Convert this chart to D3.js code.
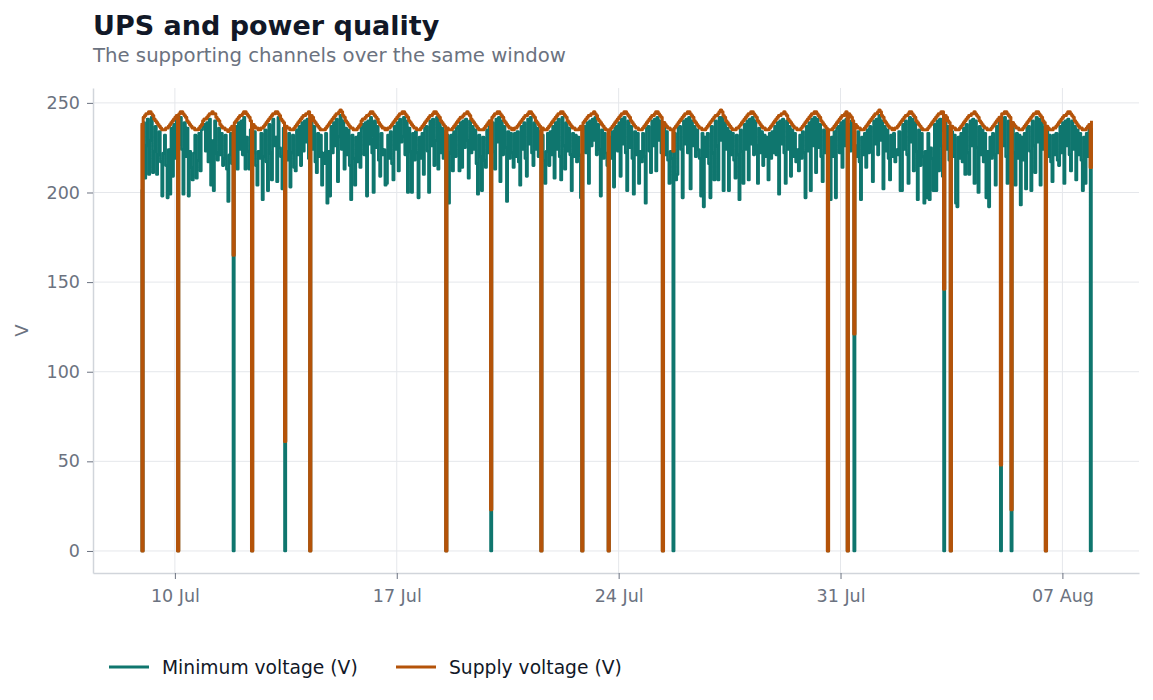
<!DOCTYPE html>
<html>
<head>
<meta charset="utf-8">
<script src="https://cdn.jsdelivr.net/npm/d3@7"></script>
<style>
  body { margin: 0; background: #fff; }
  text { font-family: "DejaVu Sans", sans-serif; }
</style>
</head>
<body>
<svg width="1153" height="700"></svg>
<script>
// hourly readings, first one at 8 Jul 22:00, one row per day
const startTime = "2024-07-08T22:00:00Z";

const supplyV = [
  238,0,242,243,244,244,245,245,244,243,241,240,239,238,237,236,235,235,235,236,236,237,238,239,
  240,241,242,243,0,244,245,245,244,243,242,240,239,238,237,236,236,235,235,235,236,237,238,240,
  241,241,242,243,244,244,245,244,244,242,241,240,238,237,236,236,235,235,234,235,236,237,165,239,
  240,241,242,243,243,244,245,245,244,243,242,240,0,238,237,236,236,235,235,236,236,237,238,239,
  240,241,242,243,244,244,245,245,244,243,241,240,239,61,237,236,236,235,235,235,236,237,238,239,
  240,241,242,243,243,244,244,245,0,243,242,240,239,238,237,236,235,235,235,235,236,237,238,239,
  240,241,242,243,244,244,245,246,245,243,242,240,239,238,237,236,236,235,235,235,236,237,238,240,
  241,241,242,243,243,244,245,245,244,243,242,241,239,238,237,236,236,235,235,236,236,237,238,239,
  240,241,242,243,244,244,245,245,244,243,242,240,239,238,237,236,236,235,235,235,236,237,238,239,
  240,241,242,243,243,244,245,245,244,243,242,240,239,238,237,0,236,235,235,235,236,237,238,239,
  240,241,242,242,243,244,244,245,244,243,241,240,239,238,237,236,235,235,235,235,236,237,238,239,
  240,23,242,243,244,244,245,245,244,243,242,240,239,238,237,236,236,235,235,236,236,237,238,239,
  240,241,242,243,243,244,245,245,244,243,242,240,239,238,237,0,236,235,235,235,236,237,238,239,
  240,241,242,243,244,244,245,245,244,243,242,240,239,238,237,236,236,235,235,235,236,237,0,239,
  240,241,242,243,243,244,244,245,244,243,241,240,239,238,237,236,235,235,0,235,236,237,238,239,
  240,241,242,243,244,244,245,245,244,243,242,240,239,238,237,236,236,235,235,235,236,237,238,239,
  240,241,242,243,243,244,245,245,244,243,242,0,239,238,237,236,236,235,235,223,236,237,238,239,
  240,241,242,243,244,244,245,245,244,243,242,240,239,238,237,236,236,235,235,235,236,237,238,239,
  240,241,242,243,243,244,245,246,245,243,242,240,239,238,237,236,235,235,235,236,236,237,238,239,
  240,241,242,243,244,244,245,245,244,243,242,240,239,238,237,236,236,235,235,235,236,237,238,239,
  240,241,242,243,243,244,244,245,244,243,241,240,239,238,237,236,236,235,235,235,236,237,238,239,
  240,241,242,243,244,244,245,245,244,243,242,240,239,238,237,236,0,235,235,235,236,237,238,239,
  240,241,242,243,243,244,245,0,244,243,242,240,121,238,237,236,236,235,235,235,236,237,238,239,
  240,241,242,243,244,244,245,246,245,243,242,240,239,238,237,236,236,235,235,236,236,237,238,239,
  240,241,242,243,243,244,245,245,244,243,242,240,239,238,237,236,235,235,235,235,236,237,238,239,
  240,241,242,243,244,244,245,245,146,243,242,240,239,0,237,236,236,235,235,235,236,237,238,239,
  240,241,242,243,243,244,244,245,244,243,242,240,239,238,237,236,236,235,235,235,236,237,238,239,
  240,241,242,48,244,244,245,245,244,243,242,23,239,238,237,236,236,235,235,235,236,237,238,239,
  240,241,242,243,244,244,245,245,244,243,242,240,239,0,237,236,235,235,235,236,236,237,238,239,
  240,241,242,243,243,244,245,245,244,243,242,240,239,238,237,236,236,235,235,235,236,237,238,214,
  240
];

const minV = [
  201,0,239,208,226,241,210,229,242,211,223,237,210,221,234,217,198,222,232,215,197,224,199,236,
  209,238,219,240,0,227,242,224,199,239,220,236,198,223,214,207,222,232,208,218,233,212,235,237,
  238,223,239,217,241,204,229,201,240,222,218,236,221,233,215,219,232,213,195,221,233,216,0,224,
  237,213,239,224,240,221,242,213,231,223,213,235,0,222,234,215,204,223,219,233,196,220,235,217,
  201,238,222,207,241,226,231,206,242,225,220,202,236,0,223,218,233,203,222,232,214,212,235,221,
  237,215,239,223,240,228,241,219,0,239,224,237,217,211,233,220,232,204,222,216,233,194,223,198,
  237,222,239,226,241,206,231,243,224,240,213,236,221,235,215,196,232,219,204,231,217,233,214,236,
  238,221,239,198,240,227,242,222,200,240,225,237,218,209,233,221,224,204,205,232,219,234,216,207,
  237,224,239,212,241,228,231,242,221,240,200,236,223,200,233,218,234,222,197,231,219,233,210,236,
  237,223,200,240,226,241,215,229,242,213,239,222,236,219,234,0,232,194,222,232,212,234,220,236,
  237,212,239,214,240,225,241,229,208,240,222,237,224,235,216,199,232,220,201,231,218,214,235,222,
  237,0,239,223,213,241,228,242,206,240,221,237,225,195,234,219,233,222,214,233,220,234,217,204,
  237,224,239,219,209,241,227,242,222,215,239,224,236,220,234,0,232,218,205,223,233,215,234,221,
  237,208,239,224,241,220,207,242,226,213,239,223,236,221,201,233,220,232,217,231,221,197,0,236,
  237,222,239,205,240,226,241,229,242,221,238,224,198,235,219,233,222,215,0,231,219,234,203,236,
  237,223,239,209,241,227,242,222,201,240,225,237,219,199,234,221,233,205,223,217,233,220,194,236,
  237,223,211,240,226,241,212,242,229,240,222,0,236,221,234,218,205,223,219,0,233,207,210,236,
  237,224,197,240,227,241,222,242,202,240,226,237,220,235,224,219,198,233,192,231,220,233,216,197,
  237,222,207,240,226,207,242,229,242,201,239,224,236,201,234,221,233,218,208,232,221,196,235,223,
  205,238,224,240,207,241,227,242,221,240,226,205,236,222,234,215,232,220,231,207,233,219,234,222,
  237,221,239,199,240,227,241,222,205,240,224,237,209,235,220,233,217,224,212,232,219,234,222,197,
  237,223,239,201,241,226,242,211,241,225,238,220,206,235,222,233,0,223,196,231,220,234,197,236,
  237,222,239,214,240,226,241,0,238,223,240,227,0,226,220,234,217,196,231,221,233,214,235,222,
  237,223,206,240,227,241,221,243,229,240,202,237,223,235,219,207,232,220,233,217,224,221,234,201,
  201,238,224,240,221,205,242,228,241,212,239,223,196,235,215,233,220,194,223,197,233,196,225,219,
  201,238,201,240,212,241,226,209,0,240,224,237,218,0,234,220,232,194,192,231,219,233,217,236,
  210,238,222,210,240,226,241,205,240,225,200,237,221,235,217,233,197,223,192,231,219,233,221,204,
  237,222,239,0,240,226,242,220,205,240,225,0,236,222,204,233,219,232,193,231,218,233,202,236,
  237,223,201,240,226,211,242,228,241,204,239,224,236,0,234,220,232,217,206,232,221,233,218,215,
  237,222,239,205,240,226,241,221,212,240,224,237,207,235,221,233,218,201,231,205,233,220,235,0,
  236
];

const tickDates = ["2024-07-10", "2024-07-17", "2024-07-24", "2024-07-31", "2024-08-07"];
const yTicks = [0, 50, 100, 150, 200, 250];
const seriesNames = ["Minimum voltage (V)", "Supply voltage (V)"];
const seriesColors = ["#0f766e", "#b45309"];

const svg = d3.select("svg");
const plotL = 93, plotR = 1139, plotT = 88, plotB = 573;

const t0 = new Date(startTime);
const timeOf = i => d3.utcHour.offset(t0, i);
const tEnd = timeOf(supplyV.length - 1);

// 5% padding on both axes
const x = d3.scaleUtc()
    .domain([d3.utcHour.offset(t0, -36), d3.utcHour.offset(tEnd, 36)])
    .range([plotL, plotR]);
const y = d3.scaleLinear()
    .domain([-12.3, 258.3])
    .range([plotB, plotT]);

// grid
const ticksX = tickDates.map(d => new Date(d + "T00:00:00Z"));
svg.append("g").selectAll("line")
    .data(ticksX)
    .join("line")
    .attr("x1", d => x(d)).attr("x2", d => x(d))
    .attr("y1", plotT).attr("y2", plotB)
    .attr("stroke", "#e5e7eb");
svg.append("g").selectAll("line")
    .data(yTicks)
    .join("line")
    .attr("x1", plotL).attr("x2", plotR)
    .attr("y1", d => y(d)).attr("y2", d => y(d))
    .attr("stroke", "#e5e7eb");

// axes
const xAxis = svg.append("g")
    .attr("transform", `translate(0,${plotB})`)
    .call(d3.axisBottom(x).tickValues(ticksX)
        .tickFormat(d3.utcFormat("%d %b")).tickSize(6).tickSizeOuter(0).tickPadding(11));
const yAxis = svg.append("g")
    .attr("transform", `translate(${plotL},0)`)
    .call(d3.axisLeft(y).tickValues(yTicks).tickSize(6).tickSizeOuter(0).tickPadding(7));

[xAxis, yAxis].forEach(g => {
    g.select(".domain").attr("stroke", "#d1d5db").attr("stroke-width", 1.5);
    g.selectAll(".tick line").attr("stroke", "#6b7280");
    g.selectAll(".tick text")
        .attr("fill", "#6b7280")
        .style("font-size", "17.5px")
        .style("font-family", "DejaVu Sans, sans-serif");
});

svg.append("text")
    .attr("transform", `translate(28,${(plotT + plotB) / 2}) rotate(-90)`)
    .attr("text-anchor", "middle")
    .attr("fill", "#6b7280")
    .style("font-size", "18px")
    .text("V");

// lines (dense readings, drawn as steps so the dips stand as bars)
const line = d3.line()
    .curve(d3.curveStepAfter)
    .x((d, i) => x(timeOf(i)))
    .y(d => y(d));

const widths = [2.6, 3];
[minV, supplyV].forEach((vals, k) => {
    svg.append("path")
        .datum(vals)
        .attr("d", line)
        .attr("fill", "none")
        .attr("stroke", seriesColors[k])
        .attr("stroke-width", widths[k])
        .attr("stroke-linejoin", "round");
});

// titles
svg.append("text")
    .attr("x", 93).attr("y", 35)
    .attr("fill", "#111827")
    .style("font-size", "27px")
    .style("font-weight", "bold")
    .text("UPS and power quality");
svg.append("text")
    .attr("x", 93).attr("y", 62)
    .attr("fill", "#6b7280")
    .style("font-size", "19.7px")
    .text("The supporting channels over the same window");

// legend
const legendX = [109, 396];
const legend = svg.append("g").selectAll("g")
    .data(seriesNames)
    .join("g")
    .attr("transform", (d, i) => `translate(${legendX[i]},667)`);
legend.append("line")
    .attr("x1", 0).attr("x2", 40)
    .attr("stroke", (d, i) => seriesColors[i])
    .attr("stroke-width", 3);
legend.append("text")
    .attr("x", 53).attr("dy", "0.35em")
    .attr("fill", "#111827")
    .style("font-size", "18.7px")
    .text(d => d);
</script>
</body>
</html>
